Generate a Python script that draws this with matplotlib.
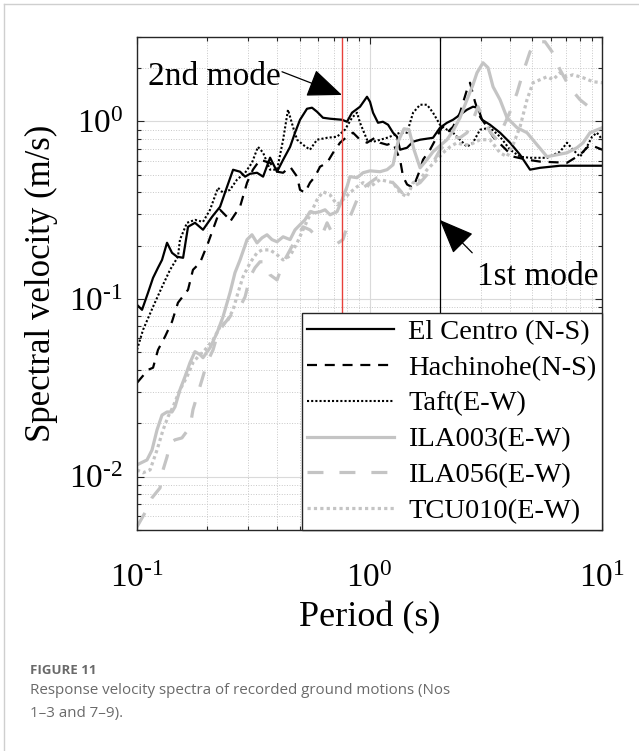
import numpy as np
import matplotlib.pyplot as plt
from matplotlib.lines import Line2D
from matplotlib.ticker import NullFormatter

plt.rcParams['font.family'] = 'Liberation Serif'
plt.rcParams['mathtext.fontset'] = 'custom'
plt.rcParams['mathtext.rm'] = 'Liberation Serif'
plt.rcParams['mathtext.it'] = 'Liberation Serif:italic'

# periods (s) and spectral velocities (m/s)
t_elcentro = [0.1, 0.1051, 0.1115, 0.1172, 0.1231, 0.1281, 0.1346, 0.1414, 0.1486, 0.1578,
              0.1657, 0.1775, 0.1922, 0.2102, 0.2275, 0.2438, 0.2588, 0.2773, 0.2914, 0.3062,
              0.328, 0.3483, 0.3733, 0.400, 0.4246, 0.455, 0.4776, 0.502, 0.5379, 0.5652,
              0.594, 0.630, 0.6755, 0.7607, 0.799, 0.8398, 0.909, 0.974, 1.0035, 1.034,
              1.086, 1.14, 1.2, 1.26, 1.311, 1.351, 1.448, 1.537, 1.647, 1.872,
              2.006, 2.15, 2.282, 2.445, 2.62, 2.78, 2.922, 3.04, 3.29, 3.634,
              4.012, 4.43, 4.89, 5.4, 6.58, 8.02, 10.0]
v_elcentro = [0.0927, 0.0869, 0.1084, 0.1315, 0.150, 0.166, 0.2073, 0.182, 0.173, 0.1706,
              0.255, 0.2686, 0.2455, 0.2903, 0.3306, 0.4285, 0.5345, 0.521, 0.4886, 0.5073,
              0.514, 0.4886, 0.625, 0.521, 0.608, 0.719, 0.863, 1.022, 1.179, 1.195,
              1.134, 1.049, 1.036, 1.022, 0.996, 1.12, 1.21, 1.377, 1.29, 1.12,
              0.983, 0.996, 0.958, 0.864, 0.82, 0.693, 0.711, 0.769, 0.789, 0.809,
              0.922, 0.983, 1.022, 1.09, 1.164, 1.21, 1.195, 1.022, 0.958, 0.864,
              0.759, 0.649, 0.535, 0.548, 0.563, 0.563, 0.563]

t_hachinohe = [0.1, 0.1115, 0.1172, 0.1231, 0.1319, 0.1414, 0.150, 0.1657, 0.174, 0.1866,
               0.2021, 0.2275, 0.2438, 0.251, 0.2773, 0.2972, 0.315, 0.3378, 0.373, 0.400,
               0.4246, 0.455, 0.4876, 0.502, 0.527, 0.554, 0.582, 0.612, 0.656, 0.696,
               0.746, 0.799, 0.848, 0.909, 0.974, 1.054, 1.108, 1.188, 1.26, 1.351,
               1.392, 1.448, 1.537, 1.647, 1.696, 1.817, 1.948, 2.047, 2.15, 2.282,
               2.445, 2.62, 2.70, 2.836, 2.98, 3.195, 3.39, 3.742, 4.13, 4.745,
               5.4, 7.05, 8.02, 8.85, 10.0]
v_hachinohe = [0.0337, 0.0399, 0.041, 0.0517, 0.0613, 0.0745, 0.0953, 0.1127, 0.146, 0.16,
               0.207, 0.318, 0.29, 0.272, 0.331, 0.452, 0.535, 0.608, 0.585, 0.521,
               0.514, 0.556, 0.4886, 0.412, 0.397, 0.452, 0.4886, 0.556, 0.585, 0.666,
               0.759, 0.82, 0.864, 0.789, 0.759, 0.809, 0.759, 0.739, 0.759, 0.609,
               0.4886, 0.4416, 0.423, 0.535, 0.609, 0.693, 0.82, 0.933, 0.864, 0.933,
               1.12, 1.509, 1.652, 1.29, 1.063, 0.933, 0.82, 0.721, 0.634, 0.609,
               0.594, 0.585, 0.649, 0.739, 0.693]

t_taft = [0.1, 0.1062, 0.1172, 0.1281, 0.1387, 0.150, 0.153, 0.164, 0.1775, 0.1922,
          0.206, 0.2229, 0.2343, 0.251, 0.269, 0.2914, 0.312, 0.331, 0.3483, 0.373,
          0.400, 0.4246, 0.4457, 0.468, 0.4876, 0.517, 0.554, 0.594, 0.656, 0.724,
          0.783, 0.8398, 0.8824, 0.909, 0.974, 1.034, 1.188, 1.351, 1.448, 1.537,
          1.647, 1.764, 1.872, 2.006, 2.15, 2.282, 2.445, 2.62, 2.78, 2.98,
          3.29, 3.634, 4.012, 4.43, 4.89, 5.785, 6.58, 7.05, 7.48, 8.02,
          8.59, 9.03, 9.48, 10.0]
v_taft = [0.0518, 0.0671, 0.0904, 0.117, 0.146, 0.173, 0.216, 0.2686, 0.279, 0.272,
          0.318, 0.423, 0.3966, 0.412, 0.47, 0.514, 0.585, 0.719, 0.667, 0.535,
          0.535, 0.789, 1.164, 0.933, 0.789, 0.739, 0.693, 0.789, 0.809, 0.82,
          0.898, 1.049, 1.12, 0.983, 0.789, 0.768, 0.809, 0.864, 0.864, 1.12,
          1.242, 1.242, 1.12, 0.958, 0.898, 0.864, 0.789, 0.72, 0.759, 0.898,
          0.922, 0.82, 0.693, 0.633, 0.624, 0.624, 0.675, 0.759, 0.693, 0.633,
          0.721, 0.82, 0.864, 0.789]

t_ila003 = [0.1, 0.1104, 0.116, 0.1219, 0.1281, 0.1346, 0.1414, 0.1457, 0.153, 0.1608,
            0.169, 0.1775, 0.1866, 0.1922, 0.206, 0.2208, 0.2343, 0.251, 0.2637, 0.2773,
            0.2972, 0.312, 0.328, 0.3446, 0.362, 0.3803, 0.400, 0.4246, 0.455, 0.4776,
            0.502, 0.527, 0.554, 0.582, 0.612, 0.643, 0.6755, 0.724, 0.761, 0.799,
            0.823, 0.8824, 0.9365, 1.0035, 1.108, 1.188, 1.26, 1.324, 1.405, 1.476,
            1.551, 1.647, 1.764, 1.872, 2.006, 2.15, 2.282, 2.445, 2.62, 2.78,
            2.893, 3.07, 3.227, 3.39, 3.634, 3.894, 4.3, 4.745, 5.24, 5.785,
            6.38, 7.05, 7.78, 8.27, 8.85, 10.0]
v_ila003 = [0.01164, 0.0124, 0.0141, 0.0183, 0.0222, 0.0231, 0.0231, 0.0247, 0.0308, 0.0365,
            0.0438, 0.0505, 0.0486, 0.0467, 0.0531, 0.0645, 0.0794, 0.1084, 0.1406, 0.166,
            0.216, 0.23, 0.207, 0.221, 0.23, 0.216, 0.21, 0.224, 0.216, 0.245,
            0.262, 0.279, 0.31, 0.306, 0.31, 0.318, 0.298, 0.31, 0.362, 0.4285,
            0.4886, 0.482, 0.514, 0.527, 0.521, 0.535, 0.57, 0.768, 0.91, 0.898,
            0.693, 0.548, 0.609, 0.675, 0.73, 0.789, 0.886, 1.049, 1.325, 1.61,
            1.88, 2.14, 2.007, 1.569, 1.325, 1.049, 0.922, 0.864, 0.739, 0.633,
            0.649, 0.666, 0.711, 0.759, 0.864, 0.922]

t_ila056 = [0.1, 0.1082, 0.116, 0.1256, 0.1294, 0.1346, 0.1387, 0.1457, 0.156, 0.169,
            0.174, 0.1829, 0.1903, 0.2, 0.2123, 0.2229, 0.2388, 0.2588, 0.2773, 0.2914,
            0.3062, 0.3215, 0.3378, 0.355, 0.373, 0.400, 0.4246, 0.455, 0.4876, 0.517,
            0.554, 0.594, 0.630, 0.656, 0.689, 0.724, 0.768, 0.799, 0.823, 0.8824,
            0.9365, 1.0035, 1.075, 1.14, 1.223, 1.311, 1.377, 1.448, 1.537, 1.647,
            1.764, 1.872, 2.006, 2.15, 2.282, 2.445, 2.62, 2.78, 2.922, 3.07,
            3.29, 3.524, 3.742, 4.012, 4.3, 4.56, 4.89, 5.24, 5.67, 6.08,
            6.58, 7.26, 8.02, 8.85, 10.0]
v_ila056 = [0.00521, 0.00625, 0.00759, 0.00863, 0.0109, 0.0129, 0.0155, 0.0161, 0.0165, 0.019,
            0.0238, 0.0296, 0.0351, 0.0438, 0.0517, 0.0645, 0.0734, 0.0836, 0.0904, 0.1028,
            0.1334, 0.15, 0.162, 0.162, 0.1368, 0.128, 0.16, 0.189, 0.224, 0.255,
            0.245, 0.224, 0.236, 0.2686, 0.236, 0.205, 0.216, 0.255, 0.29, 0.362,
            0.423, 0.452, 0.482, 0.4886, 0.47, 0.4285, 0.397, 0.397, 0.4285, 0.452,
            0.501, 0.585, 0.693, 0.759, 0.82, 0.809, 0.864, 1.022, 1.21, 1.049,
            0.875, 0.789, 0.922, 1.134, 1.451, 1.881, 2.47, 2.81, 2.81, 2.47,
            1.955, 1.548, 1.325, 1.195, 1.164]

t_tcu010 = [0.1, 0.1062, 0.1138, 0.1219, 0.1294, 0.1359, 0.1428, 0.153, 0.164, 0.174,
            0.1829, 0.196, 0.2123, 0.2275, 0.246, 0.2588, 0.2716, 0.2855, 0.3062, 0.328,
            0.3446, 0.373, 0.400, 0.4246, 0.455, 0.4876, 0.517, 0.554, 0.594, 0.630,
            0.6755, 0.724, 0.768, 0.823, 0.8824, 0.9365, 1.0035, 1.108, 1.26, 1.351,
            1.448, 1.537, 1.647, 1.764, 1.948, 2.067, 2.215, 2.374, 2.519, 2.70,
            2.98, 3.29, 3.634, 3.894, 4.134, 4.43, 4.745, 5.035, 5.4, 5.785,
            6.14, 6.58, 7.05, 7.48, 8.27, 9.12, 10.0]
v_tcu010 = [0.0109, 0.0105, 0.0109, 0.0141, 0.0183, 0.0217, 0.0247, 0.0308, 0.0365, 0.0438,
            0.0473, 0.0517, 0.0589, 0.0697, 0.0763, 0.0869, 0.1084, 0.1333, 0.16, 0.182,
            0.189, 0.189, 0.1775, 0.166, 0.175, 0.207, 0.245, 0.298, 0.362, 0.402,
            0.386, 0.34, 0.362, 0.397, 0.4285, 0.452, 0.4285, 0.47, 0.452, 0.397,
            0.376, 0.452, 0.47, 0.535, 0.609, 0.666, 0.719, 0.759, 0.739, 0.739,
            0.789, 0.789, 0.666, 0.633, 0.739, 0.933, 1.325, 1.652, 1.718, 1.786,
            1.718, 1.881, 1.786, 1.832, 1.763, 1.674, 1.652]

labels = ['El Centro (N-S)', 'Hachinohe(N-S)', 'Taft(E-W)',
          'ILA003(E-W)', 'ILA056(E-W)', 'TCU010(E-W)']

t_mode1 = 2.0
t_mode2 = 0.76

black = 'k'
grey = '#c4c4c4'

fig = plt.figure(figsize=(6.39, 7.51), dpi=100)
ax = fig.add_axes([0.2144, 0.2943, 0.7282, 0.6568])

ax.plot(t_elcentro, v_elcentro, color=black, lw=1.6, ls='-', label=labels[0])
ax.plot(t_hachinohe, v_hachinohe, color=black, lw=1.6, ls=(0, (4.5, 3.5)), label=labels[1])
ax.plot(t_taft, v_taft, color=black, lw=1.5, ls=(0, (1, 1)), label=labels[2])
ax.plot(t_ila003, v_ila003, color=grey, lw=2.3, ls='-', label=labels[3])
ax.plot(t_ila056, v_ila056, color=grey, lw=2.3, ls=(0, (5, 5)), label=labels[4])
ax.plot(t_tcu010, v_tcu010, color=grey, lw=2.3, ls=(0, (1, 1)), label=labels[5])

ax.axvline(t_mode2, color='#e8403a', lw=1.0)
ax.axvline(t_mode1, color=black, lw=0.9)

ax.set_xscale('log')
ax.set_yscale('log')
ax.set_xlim(0.1, 10)
ax.set_ylim(0.005, 3)

ax.grid(which='major', color='#dadada', ls='-', lw=0.8)
ax.grid(which='minor', color='#c8c8c8', ls=':', lw=0.7)
ax.set_axisbelow(True)

ax.set_xticks([0.1, 1, 10])
ax.set_xticklabels([r'$10^{\text{-}1}$', r'$10^{0}$', r'$10^{1}$'])
ax.set_yticks([0.01, 0.1, 1])
ax.set_yticklabels([r'$10^{\text{-}2}$', r'$10^{\text{-}1}$', r'$10^{0}$'])
ax.xaxis.set_minor_formatter(NullFormatter())
ax.yaxis.set_minor_formatter(NullFormatter())
ax.tick_params(which='both', direction='in', top=True, right=True,
               color='#262626', width=0.8)
ax.tick_params(which='major', length=5, labelsize=24)
ax.tick_params(axis='x', which='major', pad=24)
ax.tick_params(axis='y', which='major', pad=10)
ax.tick_params(which='minor', length=3)
for s in ax.spines.values():
    s.set_color('#262626')
    s.set_linewidth(1.0)

ax.set_xlabel('Period (s)', fontsize=26, labelpad=5)
ax.set_ylabel('Spectral velocity (m/s)', fontsize=25, labelpad=8)

# mode annotations
ax.text(0.1115, 1.78, '2nd mode', fontsize=24, ha='left', va='center')
ax.annotate('', xy=(t_mode2, 1.41), xytext=(0.42, 1.905),
            arrowprops=dict(arrowstyle='-|>,head_length=1.1,head_width=0.45',
                            color=black, lw=0.9, mutation_scale=20,
                            shrinkA=0, shrinkB=0))
ax.text(2.89, 0.134, '1st mode', fontsize=24, ha='left', va='center')
ax.annotate('', xy=(t_mode1, 0.279), xytext=(2.76, 0.182),
            arrowprops=dict(arrowstyle='-|>,head_length=1.1,head_width=0.45',
                            color=black, lw=0.9, mutation_scale=20,
                            shrinkA=0, shrinkB=0))

leg = ax.legend(loc='lower right', fontsize=20.5, handlelength=3.05, handletextpad=0.5,
                labelspacing=0.35, borderpad=0.2, borderaxespad=0.0,
                fancybox=False, framealpha=1.0, edgecolor='#262626')
leg.get_frame().set_linewidth(1.0)

# caption
fig.text(30 / 639, 1 - 671 / 751, 'FIGURE 11', fontsize=9.5, fontweight='bold',
         family='Open Sans', color='#6a6a6a', va='center')
fig.text(30 / 639, 1 - 690 / 751,
         'Response velocity spectra of recorded ground motions (Nos',
         fontsize=10.9, family='Open Sans', color='#6a6a6a', va='center')
fig.text(30 / 639, 1 - 713 / 751, '1\u20133 and 7\u20139).',
         fontsize=10.9, family='Open Sans', color='#6a6a6a', va='center')

# page frame lines
fig.add_artist(Line2D([4 / 639, 4 / 639], [0, 1 - 4 / 751], transform=fig.transFigure,
                      color='#cfcfcf', lw=1.0))
fig.add_artist(Line2D([4 / 639, 1], [1 - 4 / 751, 1 - 4 / 751], transform=fig.transFigure,
                      color='#cfcfcf', lw=1.0))

fig.savefig('out.png', dpi=100)
